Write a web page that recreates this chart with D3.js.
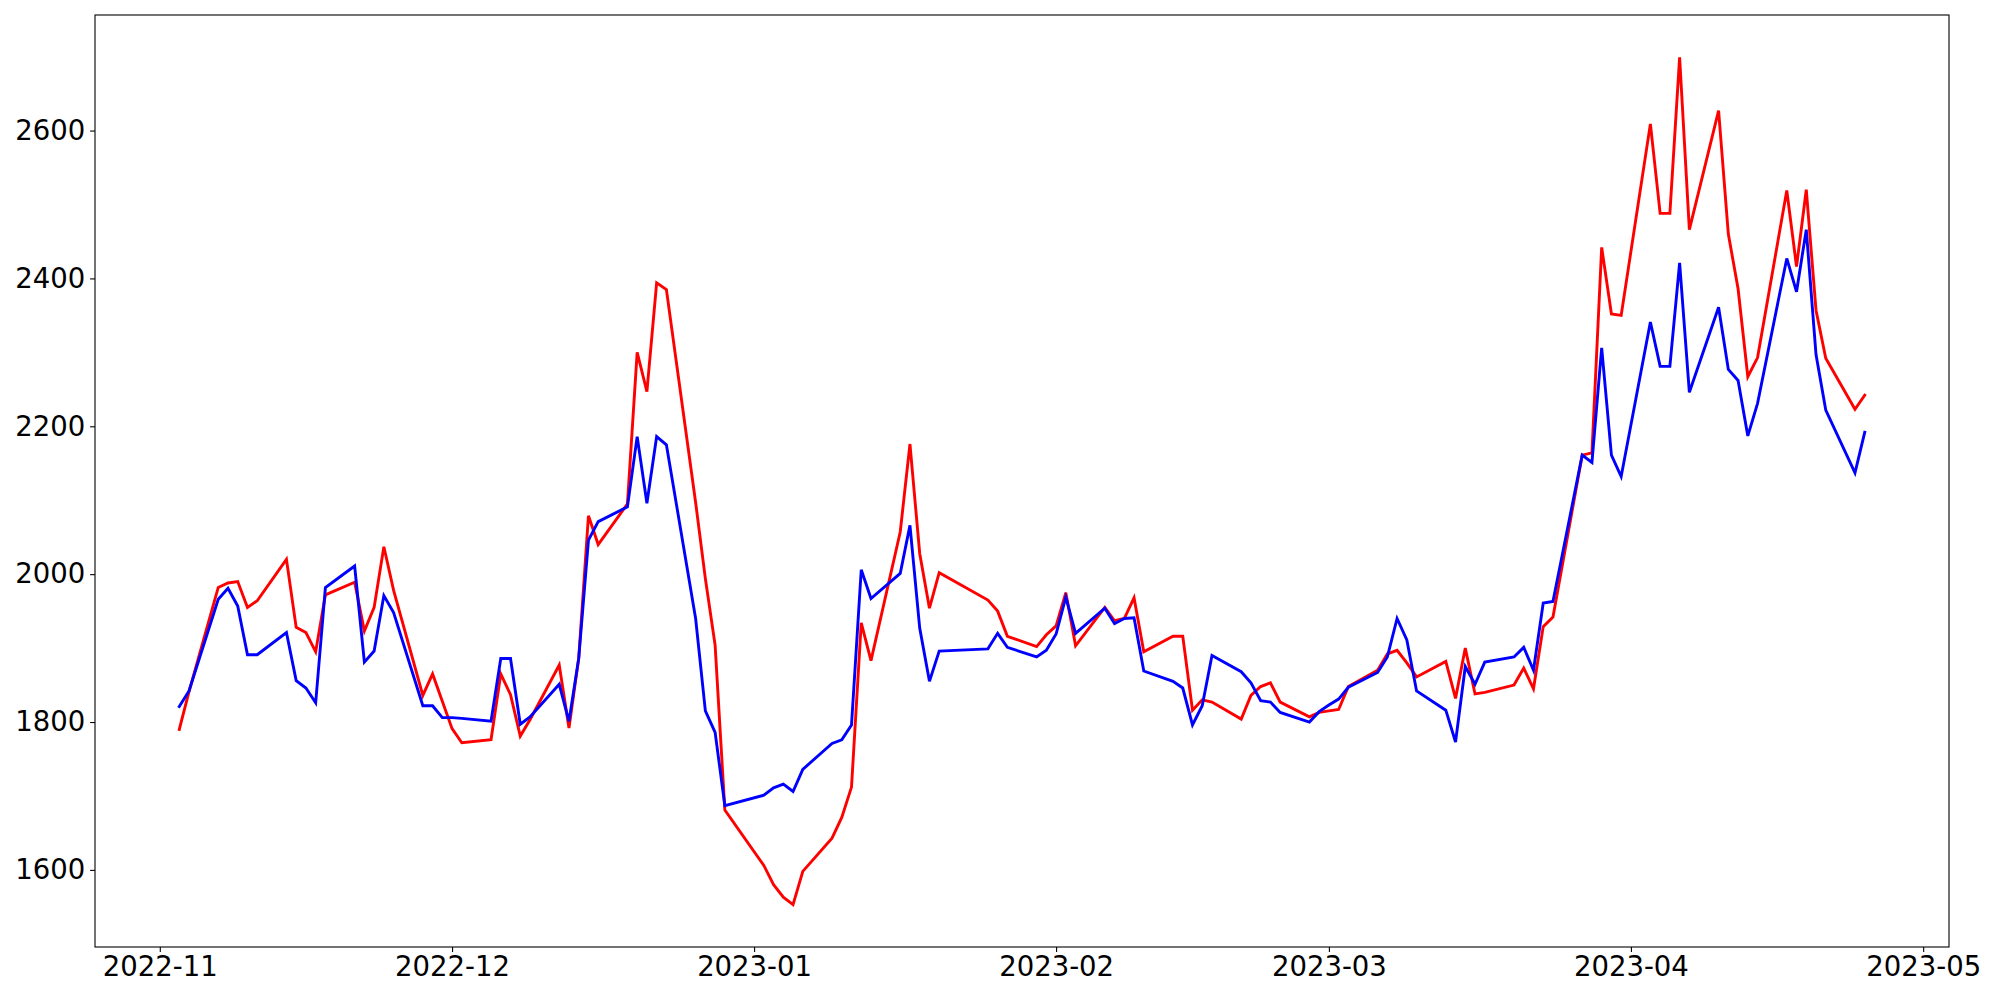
<!DOCTYPE html>
<html>
<head>
<meta charset="utf-8">
<script src="https://cdn.jsdelivr.net/npm/d3@7"></script>
<style>
  html, body { margin: 0; padding: 0; background: #fff; }
  svg { display: block; }
  .tick text { font-family: "DejaVu Sans", sans-serif; }
</style>
</head>
<body>
<svg id="chart" width="2000" height="1000"></svg>
<script>
// ---- data ----
const dates = [
  "2022-11-03","2022-11-04","2022-11-07","2022-11-08","2022-11-09","2022-11-10","2022-11-11","2022-11-14","2022-11-15","2022-11-16",
  "2022-11-17","2022-11-18","2022-11-21","2022-11-22","2022-11-23","2022-11-24","2022-11-25","2022-11-28","2022-11-29","2022-11-30",
  "2022-12-01","2022-12-02","2022-12-05","2022-12-06","2022-12-07","2022-12-08","2022-12-09","2022-12-12","2022-12-13","2022-12-14",
  "2022-12-15","2022-12-16","2022-12-19","2022-12-20","2022-12-21","2022-12-22","2022-12-23","2022-12-26","2022-12-27","2022-12-28",
  "2022-12-29",
  "2023-01-02","2023-01-03","2023-01-04","2023-01-05","2023-01-06","2023-01-09","2023-01-10","2023-01-11","2023-01-12","2023-01-13",
  "2023-01-16","2023-01-17","2023-01-18","2023-01-19","2023-01-20","2023-01-25","2023-01-26","2023-01-27","2023-01-30","2023-01-31",
  "2023-02-01","2023-02-02","2023-02-03","2023-02-06","2023-02-07","2023-02-08","2023-02-09","2023-02-10","2023-02-13","2023-02-14",
  "2023-02-15","2023-02-16","2023-02-17","2023-02-20","2023-02-21","2023-02-22","2023-02-23","2023-02-24","2023-02-27","2023-02-28",
  "2023-03-01","2023-03-02","2023-03-03","2023-03-06","2023-03-07","2023-03-08","2023-03-09","2023-03-10","2023-03-13","2023-03-14",
  "2023-03-15","2023-03-16","2023-03-17","2023-03-20","2023-03-21","2023-03-22","2023-03-23","2023-03-24","2023-03-27","2023-03-28",
  "2023-03-29","2023-03-30","2023-03-31",
  "2023-04-03","2023-04-04","2023-04-05","2023-04-06","2023-04-07","2023-04-10","2023-04-11","2023-04-12","2023-04-13","2023-04-14",
  "2023-04-17","2023-04-18","2023-04-19","2023-04-20","2023-04-21","2023-04-24","2023-04-25"
];

const redSeries = [
  1790, 1841, 1982, 1988, 1990, 1955, 1964, 2020, 1928, 1921, 1895, 1972, 1989, 1923, 1955, 2037, 1978, 1836, 1865, 1828,
  1791, 1772, 1776, 1865, 1837, 1781, 1803, 1877, 1792, 1886, 2079, 2040, 2095, 2300, 2247, 2394, 2385, 2097, 1994, 1904, 1681,
  1606, 1580, 1563, 1553, 1598, 1643, 1671, 1712, 1934, 1883, 2057, 2176, 2028, 1954, 2002, 1965, 1950, 1916, 1902, 1918,
  1930, 1975, 1903, 1955, 1937, 1940, 1968, 1895, 1916, 1916, 1816, 1830, 1827, 1804, 1836, 1848, 1853, 1827, 1807, 1813,
  1815, 1817, 1848, 1870, 1892, 1897, 1880, 1861, 1882, 1832, 1900, 1838, 1840, 1850, 1873, 1845, 1929, 1942, 2161, 2164, 2442, 2352, 2350,
  2609, 2488, 2488, 2699, 2466, 2627, 2460, 2386, 2267, 2293, 2519, 2416, 2520, 2357, 2292, 2223, 2242
];

const blueSeries = [
  1821, 1842, 1966, 1981, 1957, 1891, 1891, 1921, 1856, 1846, 1826, 1982, 2011, 1881, 1896, 1971, 1948, 1822, 1822, 1806,
  1806, 1805, 1801, 1886, 1886, 1797, 1807, 1851, 1801, 1886, 2046, 2071, 2091, 2186, 2096, 2186, 2175, 1940, 1815, 1786, 1687,
  1701, 1711, 1716, 1706, 1736, 1771, 1776, 1796, 2006, 1967, 2001, 2066, 1927, 1855, 1896, 1899, 1920, 1901, 1888, 1897,
  1919, 1969, 1920, 1954, 1933, 1940, 1941, 1869, 1855, 1846, 1796, 1822, 1890, 1868, 1853, 1829, 1827, 1813, 1800, 1814,
  1823, 1831, 1847, 1867, 1888, 1940, 1911, 1842, 1816, 1773, 1875, 1851, 1881, 1888, 1901, 1870, 1961, 1963, 2161, 2151, 2306, 2161, 2132,
  2341, 2281, 2281, 2421, 2246, 2361, 2277, 2262, 2187, 2231, 2427, 2382, 2466, 2297, 2222, 2137, 2192
];

const yTickValues = [1600, 1800, 2000, 2200, 2400, 2600];
const xTickLabels = ["2022-11","2022-12","2023-01","2023-02","2023-03","2023-04","2023-05"];

// ---- layout ----
const W = 2000, H = 1000;
const margin = { left: 95, right: 51, top: 15, bottom: 53 };
const pw = W - margin.left - margin.right;
const ph = H - margin.top - margin.bottom;
const fontPx = 27.5;

const parse = d3.utcParse("%Y-%m-%d");
const parseMonth = d3.utcParse("%Y-%m");
const xs = dates.map(parse);

const series = [
  { color: "#ff0000", values: redSeries },
  { color: "#0000ff", values: blueSeries }
];

// matplotlib-like 5% margins
const [t0, t1] = d3.extent(xs);
const tpad = (t1 - t0) * 0.05;
const allVals = redSeries.concat(blueSeries);
const [v0, v1] = d3.extent(allVals);
const vpad = (v1 - v0) * 0.05;

const x = d3.scaleUtc().domain([new Date(+t0 - tpad), new Date(+t1 + tpad)]).range([0, pw]);
const y = d3.scaleLinear().domain([v0 - vpad, v1 + vpad]).range([ph, 0]);

const svg = d3.select("#chart");
svg.append("rect").attr("width", W).attr("height", H).attr("fill", "#fff");
const g = svg.append("g").attr("transform", `translate(${margin.left},${margin.top})`);

const line = d3.line().x((d) => x(d[0])).y((d) => y(d[1]));

series.forEach((s) => {
  g.append("path")
    .datum(xs.map((t, i) => [t, s.values[i]]))
    .attr("fill", "none")
    .attr("stroke", s.color)
    .attr("stroke-width", 2.9)
    .attr("stroke-linejoin", "miter")
    .attr("stroke-linecap", "square")
    .attr("d", line);
});

// axes
const xAxis = d3.axisBottom(x)
  .tickValues(xTickLabels.map(parseMonth))
  .tickFormat(d3.utcFormat("%Y-%m"))
  .tickSize(4.9).tickPadding(4.9);
const yAxis = d3.axisLeft(y)
  .tickValues(yTickValues)
  .tickFormat(d3.format("d"))
  .tickSize(4.9).tickPadding(4.9);

const gx = g.append("g").attr("transform", `translate(0,${ph})`).call(xAxis);
const gy = g.append("g").call(yAxis);
[gx, gy].forEach((ax) => {
  ax.select(".domain").remove();
  ax.selectAll(".tick line").attr("stroke", "#000").attr("stroke-width", 1.1);
  ax.selectAll(".tick text").attr("fill", "#000").style("font-size", fontPx + "px");
});

// frame (spines)
g.append("rect")
  .attr("x", 0).attr("y", 0).attr("width", pw).attr("height", ph)
  .attr("fill", "none").attr("stroke", "#000").attr("stroke-width", 1.1);
</script>
</body>
</html>
